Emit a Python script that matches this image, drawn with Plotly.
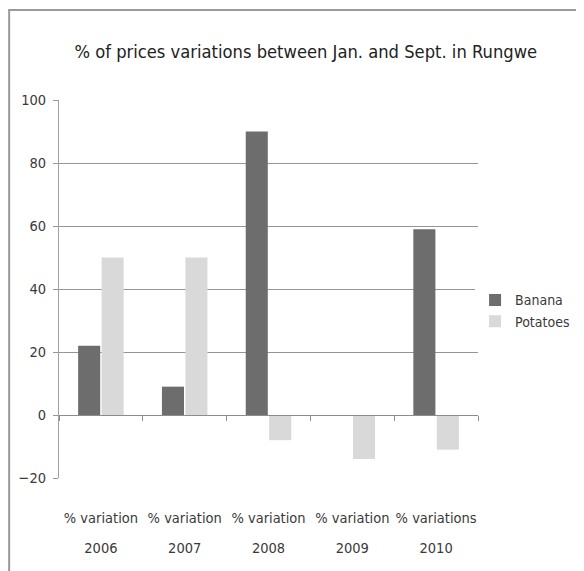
import plotly.graph_objects as go

categories = ["% variation 2006", "% variation 2007", "% variation 2008",
              "% variation 2009", "% variations 2010"]
label_line1 = ["% variation", "% variation", "% variation", "% variation", "% variations"]
label_years = ["2006", "2007", "2008", "2009", "2010"]
banana = [22, 9, 90, 0, 59]
potatoes = [50, 50, -8, -14, -11]
y_ticks = [-20, 0, 20, 40, 60, 80, 100]

FONT = "DejaVu Sans Condensed, DejaVu Sans, sans-serif"
TXT = "#3a3a3a"

fig = go.Figure()
fig.add_trace(go.Bar(x=categories, y=banana, name="Banana", marker_color="#6d6d6d",
                     marker_line_width=0))
fig.add_trace(go.Bar(x=categories, y=potatoes, name="Potatoes", marker_color="#d9d9d9",
                     marker_line_width=0))
# invisible traces to carry extra category axes (zero-crossing axis, year labels)
fig.add_trace(go.Scatter(x=categories, y=[0] * len(categories), xaxis="x2", mode="markers",
                         marker=dict(opacity=0), showlegend=False, hoverinfo="skip"))
fig.add_trace(go.Scatter(x=categories, y=[0] * len(categories), xaxis="x3", mode="markers",
                         marker=dict(opacity=0), showlegend=False, hoverinfo="skip"))

fig.update_layout(
    width=576, height=563,
    paper_bgcolor="white", plot_bgcolor="white",
    margin=dict(l=51, r=106, t=92, b=93, autoexpand=False),
    title=dict(text="% of prices variations between Jan. and Sept. in Rungwe",
               x=0.517, xanchor="center", y=0.922, yanchor="middle",
               font=dict(family=FONT, size=18.2, color="#222")),
    barmode="group", bargap=0.44, bargroupgap=0.06,
    font=dict(family=FONT, size=14, color=TXT),
    legend=dict(x=0.993, y=0.442, xanchor="left", yanchor="middle",
                font=dict(family=FONT, size=14, color=TXT),
                itemwidth=30, tracegroupgap=9),
    xaxis=dict(type="category", categoryarray=categories, tickvals=categories,
               ticktext=label_line1, showgrid=False, showline=False, ticks="",
               ticklabelstandoff=29, tickfont=dict(size=14.5, color=TXT)),
    xaxis2=dict(type="category", overlaying="x", anchor="free", position=20 / 120, matches="x",
                showline=True, linecolor="#8c8c8c", linewidth=1,
                ticks="outside", tickson="boundaries", ticklen=5, tickcolor="#8c8c8c",
                showticklabels=False, showgrid=False),
    xaxis3=dict(type="category", overlaying="x", anchor="free", position=0, matches="x",
                tickvals=categories, ticktext=label_years, showline=False, ticks="",
                showgrid=False, ticklabelstandoff=59, tickfont=dict(size=14.5, color=TXT),
                side="bottom"),
    yaxis=dict(range=[-20, 100], tickvals=y_ticks, showgrid=True, gridcolor="#959595",
               gridwidth=1, zeroline=False, showline=True, linecolor="#a0a0a0",
               ticks="outside", ticklen=5, tickcolor="#959595", ticklabelstandoff=4,
               tickfont=dict(size=14.5, color=TXT)),
    shapes=[dict(type="rect", xref="paper", yref="paper", x0=-0.119, x1=1.5, y0=-0.6, y1=1.238,
                 line=dict(color="#9a9a9a", width=2), fillcolor="rgba(0,0,0,0)", layer="below")],
)

fig.write_html("out.html")
